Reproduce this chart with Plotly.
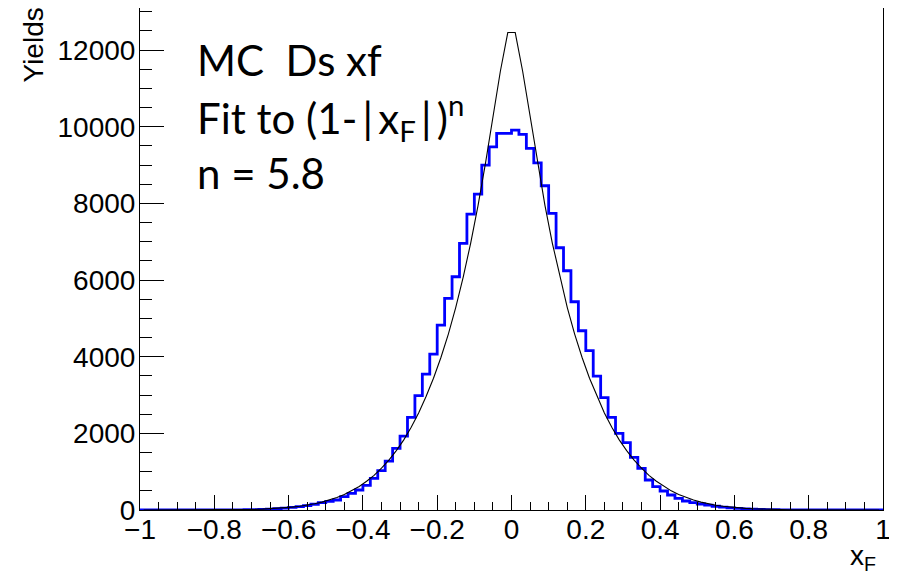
import plotly.graph_objects as go

# ---------------- data ----------------
bin_width = 0.02
bin_lo = [round(-1.0 + bin_width * i, 2) for i in range(100)]

hist_values = [
    0, 0, 0, 0, 0, 0, 0, 0, 0, 1,
    1, 2, 3, 5, 7, 11, 16, 24, 34, 48,
    66, 88, 115, 150, 191, 226, 261, 348, 435, 522,
    643, 826, 1026, 1278, 1609, 1930, 2417, 2983, 3548, 4070,
    4826, 5522, 6087, 6957, 7722, 8243, 9000, 9478, 9826, 9826,
    9913, 9800, 9435, 9061, 8461, 7739, 6843, 6243, 5435, 4678,
    4157, 3496, 2930, 2417, 2000, 1757, 1374, 1087, 783, 609,
    496, 391, 304, 235, 191, 157, 125, 98, 76, 58,
    43, 31, 22, 15, 10, 7, 5, 3, 2, 1,
    1, 0, 0, 0, 0, 0, 0, 0, 0, 0,
]

curve_x = [round(-0.99 + 0.02 * i, 2) for i in range(100)]
curve_y = [
    0, 0, 0, 0, 0, 0, 0, 0, 1, 1,
    2, 3, 5, 8, 11, 16, 22, 31, 42, 56,
    74, 97, 126, 162, 206, 260, 325, 405, 500, 615,
    750, 905, 1090, 1300, 1550, 1830, 2160, 2530, 2960, 3440,
    3980, 4590, 5290, 6080, 6960, 7950, 9050, 10250, 11450, 12460,
    12460, 11450, 10250, 9050, 7950, 6960, 6080, 5290, 4590, 3980,
    3440, 2960, 2530, 2160, 1830, 1550, 1300, 1090, 905, 750,
    615, 500, 405, 325, 260, 206, 162, 126, 97, 74,
    56, 42, 31, 22, 16, 11, 8, 5, 3, 2,
    1, 1, 0, 0, 0, 0, 0, 0, 0, 0,
]

x_ticks = [-1, -0.8, -0.6, -0.4, -0.2, 0, 0.2, 0.4, 0.6, 0.8, 1]
x_tick_text = ["\u22121", "\u22120.8", "\u22120.6", "\u22120.4", "\u22120.2", "0",
               "0.2", "0.4", "0.6", "0.8", "1"]
y_ticks = [0, 2000, 4000, 6000, 8000, 10000, 12000]

# ---------------- figure ----------------
step_x = bin_lo + [1.0]
step_y = hist_values + [hist_values[-1]]

fig = go.Figure()
fig.add_trace(go.Scatter(
    x=step_x, y=step_y, mode="lines", line_shape="hv",
    line=dict(color="#0000ff", width=2.8), showlegend=False,
))
fig.add_trace(go.Scatter(
    x=curve_x, y=curve_y, mode="lines",
    line=dict(color="#000000", width=1.1), showlegend=False,
))

tick_font = dict(family="Liberation Sans, Arial, sans-serif", size=28, color="black")

fig.update_xaxes(
    range=[-1, 1], tickvals=x_ticks, ticktext=x_tick_text,
    ticks="inside", ticklen=15, tickwidth=1, tickcolor="black",
    minor=dict(dtick=0.05, tick0=-1, ticks="inside", ticklen=8, tickcolor="black", tickwidth=1),
    showline=True, linecolor="black", linewidth=1, mirror=True,
    showgrid=False, zeroline=False, tickfont=tick_font, ticklabelstandoff=-6,
)
fig.update_yaxes(
    range=[0, 13100], tickvals=y_ticks, ticktext=[str(v) for v in y_ticks],
    ticks="inside", ticklen=24, tickwidth=1, tickcolor="black",
    minor=dict(dtick=500, tick0=0, ticks="inside", ticklen=12, tickcolor="black", tickwidth=1),
    showline=True, linecolor="black", linewidth=1, mirror=True,
    showgrid=False, zeroline=False, tickfont=tick_font, ticklabelstandoff=-2,
)

# page body has an 8px default margin -> compensate
OFF = 8
W, H = 897 - OFF, 576 - OFF
L, R, T, B = 140 - OFF, 14, 0, 66
pw, ph = W - L - R, H - T - B

def px(xs):
    # screen pixel -> paper x
    return (xs - OFF - L) / pw

def py(ys):
    # screen pixel -> paper y
    return (T + ph - (ys - OFF)) / ph

txt_font = dict(family="Lato, Open Sans, sans-serif", size=42, color="black")
annotations = [
    dict(text="MC\u00a0 Ds xf", x=px(195), y=py(60), xanchor="left", yanchor="middle"),
    dict(text="Fit to (1-\u2009|\u2009x<sub>F</sub>\u2009|\u2009)<sup>n</sup>", x=px(195), y=py(117),
         xanchor="left", yanchor="middle"),
    dict(text="n = 5.8", x=px(195), y=py(173), xanchor="left", yanchor="middle"),
]
for a in annotations:
    a.update(xref="paper", yref="paper", showarrow=False, font=txt_font)
annotations.append(dict(text="x<sub>F</sub>", x=px(878), y=py(557), xref="paper", yref="paper",
                        xanchor="right", yanchor="middle", showarrow=False, font=tick_font))
annotations.append(dict(text="Yields", x=px(33), y=py(6), xref="paper", yref="paper",
                        xanchor="center", yanchor="top", textangle=-90, showarrow=False, font=tick_font))

fig.update_layout(
    width=W, height=H, margin=dict(l=L, r=R, t=T, b=B, autoexpand=False),
    paper_bgcolor="white", plot_bgcolor="white",
    annotations=annotations,
)

fig.write_html("out.html")
